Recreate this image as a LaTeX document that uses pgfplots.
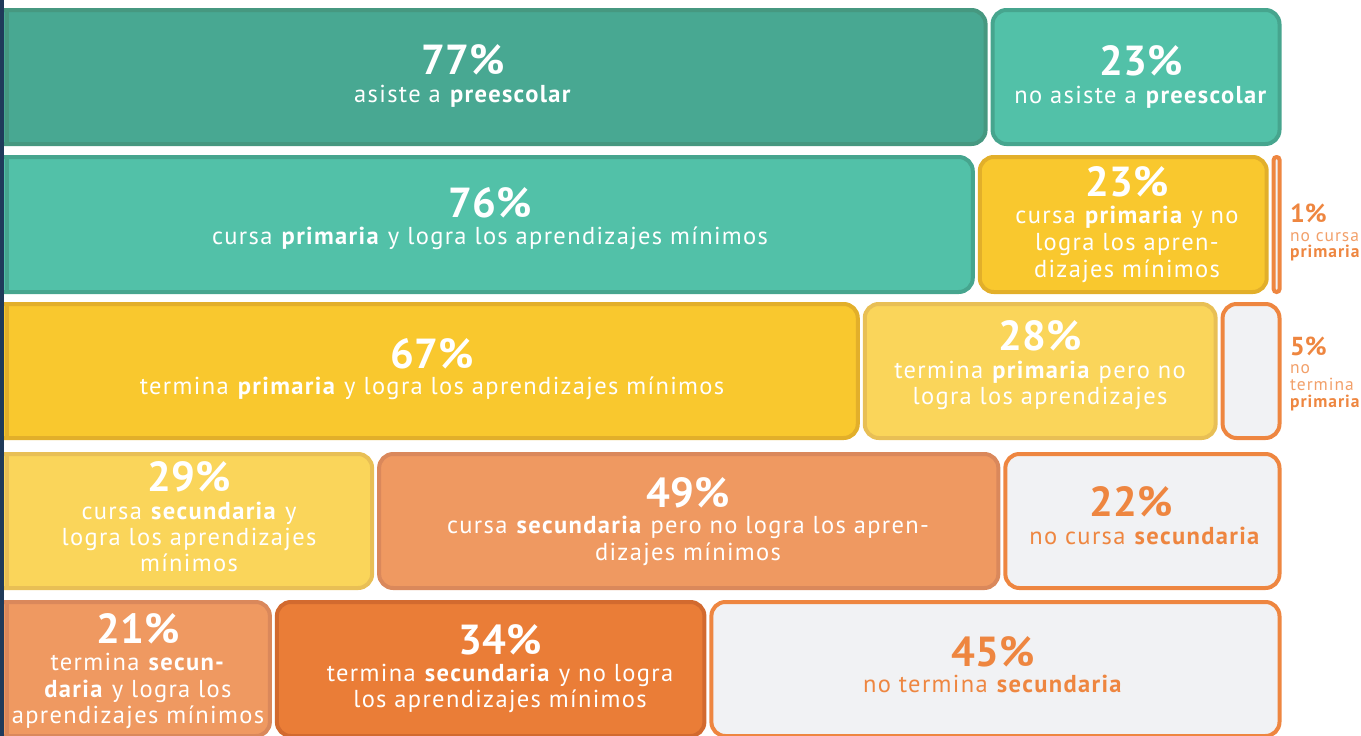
\documentclass[border=0pt]{standalone}
\usepackage{pgfplots}
\pgfplotsset{compat=1.18}
\usepackage{fontspec}
\setmainfont{PT Sans}
\newfontfamily\bodyfam{PT Sans}[LetterSpace=5.5]
\definecolor{tealD}{HTML}{48A892}
\definecolor{tealDb}{HTML}{469880}
\definecolor{tealL}{HTML}{52C1A8}
\definecolor{tealLb}{HTML}{46A58E}
\definecolor{yel}{HTML}{F9C82E}
\definecolor{yelb}{HTML}{E2AF2A}
\definecolor{yelL}{HTML}{FAD55A}
\definecolor{yelLb}{HTML}{E8BF55}
\definecolor{orL}{HTML}{EF9961}
\definecolor{orLb}{HTML}{DA885B}
\definecolor{orD}{HTML}{EA7D37}
\definecolor{orDb}{HTML}{D26A2F}
\definecolor{gry}{HTML}{F1F2F4}
\definecolor{orB}{HTML}{EE8640}
\definecolor{orT}{HTML}{F2A06A}
\definecolor{navy}{HTML}{1F3A5A}
\newcommand\bigf{\fontsize{42}{42}\selectfont\bfseries}
\newcommand\bodyf{\bodyfam\fontsize{24.5}{24.5}\selectfont}
\newcommand\sidef{\bodyfam\fontsize{17.5}{17.5}\selectfont}
% segment: [radius] start %, end %, top px, bottom px, fill ; border in \segborder
\newcommand\seg[6][14pt]{%
  \pgfmathsetmacro\xa{5+12.78*#2+3.5}%
  \pgfmathsetmacro\xb{5+12.78*#3-3.5}%
  \pgfmathsetmacro\xm{(\xa+\xb)/2}%
  \pgfmathsetmacro\ya{#4+2}%
  \pgfmathsetmacro\yb{#5-2}%
  \edef\doseg{\noexpand\addplot[fill=#6, draw=\segborder, line width=4pt, rounded corners=#1]
    coordinates {(\xm,\yb) (\xb,\yb) (\xb,\ya) (\xa,\ya) (\xa,\yb) (\xm,\yb)};}%
  \doseg}
% square left edge of the first segment of a row
\newcommand\lb[3]{\addplot[draw=#3, line width=4pt] coordinates {(7,#1) (7,#2)};}
\newcommand\BN[4]{\node[anchor=base, text=#4, font=\bigf, inner sep=0pt] at (axis cs:#1,#2) {#3};}
\newcommand\TL[4]{\node[anchor=base, text=#4, font=\bodyf, inner sep=0pt] at (axis cs:#1,#2) {#3};}
\begin{document}
\begin{tikzpicture}
\begin{axis}[scale only axis, width=1361pt, height=736pt,
  xmin=0, xmax=1361, ymin=0, ymax=736, y dir=reverse,
  axis line style={draw=none}, xtick=\empty, ytick=\empty, clip=true]
% row 1
\def\segborder{tealDb}\seg{-3}{77}{8}{146}{tealD}
\lb{8}{146}{tealDb}
\def\segborder{tealLb}\seg{77}{100}{8}{146}{tealL}
% row 2
\def\segborder{tealLb}\seg{-3}{76}{155}{294}{tealL}
\lb{155}{294}{tealLb}
\def\segborder{yelb}\seg{76}{99}{155}{294}{yel}
\def\segborder{orB}\seg[2.8pt]{99}{100}{155}{294}{gry}
% row 3
\def\segborder{yelb}\seg{-3}{67}{302}{440}{yel}
\lb{302}{440}{yelb}
\def\segborder{yelLb}\seg{67}{95}{302}{440}{yelL}
\def\segborder{orB}\seg{95}{100}{302}{440}{gry}
% row 4
\def\segborder{yelLb}\seg{-3}{29}{452}{590}{yelL}
\lb{452}{590}{yelLb}
\def\segborder{orLb}\seg{29}{78}{452}{590}{orL}
\def\segborder{orB}\seg{78}{100}{452}{590}{gry}
% row 5
\def\segborder{orLb}\seg{-3}{21}{600}{738}{orL}
\lb{600}{738}{orLb}
\def\segborder{orDb}\seg{21}{55}{600}{738}{orD}
\def\segborder{orB}\seg{55}{100}{600}{738}{gry}
% navy rule
\addplot[draw=navy, line width=4pt] coordinates {(2,0) (2,736)};
% texts
\BN{463}{74}{77\%}{white}
\TL{463}{102.5}{asiste a \textbf{preescolar}}{white}
\BN{1141}{75}{23\%}{white}
\TL{1141}{103}{no asiste a \textbf{preescolar}}{white}
\BN{490}{217}{76\%}{white}
\TL{490}{244}{cursa \textbf{primaria} y logra los aprendizajes mínimos}{white}
\BN{1127}{196}{23\%}{white}
\TL{1127}{223}{cursa \textbf{primaria} y no}{white}
\TL{1127}{250}{logra los apren-}{white}
\TL{1127}{277}{dizajes mínimos}{white}
\BN{432}{368}{67\%}{white}
\TL{432}{394}{termina \textbf{primaria} y logra los aprendizajes mínimos}{white}
\BN{1040}{350}{28\%}{white}
\TL{1040}{378}{termina \textbf{primaria} pero no}{white}
\TL{1040}{404}{logra los aprendizajes}{white}
\BN{189}{491}{29\%}{white}
\TL{189}{519}{cursa \textbf{secundaria} y}{white}
\TL{189}{545}{logra los aprendizajes}{white}
\TL{189}{571}{mínimos}{white}
\BN{688}{507}{49\%}{white}
\TL{688}{533}{cursa \textbf{secundaria} pero no logra los apren-}{white}
\TL{688}{560}{dizajes mínimos}{white}
\BN{1131}{516}{22\%}{orB}
\TL{1145}{544}{no cursa \textbf{secundaria}}{orB}
\BN{138}{643}{21\%}{white}
\TL{138}{670}{termina \textbf{secun-}}{white}
\TL{138}{697}{\textbf{daria} y logra los}{white}
\TL{138}{723}{aprendizajes mínimos}{white}
\BN{500}{654}{34\%}{white}
\TL{500}{681}{termina \textbf{secundaria} y no logra}{white}
\TL{500}{707}{los aprendizajes mínimos}{white}
\BN{993}{666}{45\%}{orB}
\TL{993}{692}{no termina \textbf{secundaria}}{orB}
% side labels
\node[anchor=base west, inner sep=0pt, text=orB, font=\fontsize{26}{26}\selectfont\bfseries] at (axis cs:1290,222) {1\%};
\node[anchor=base west, inner sep=0pt, text=orT, font=\sidef] at (axis cs:1290,241) {no cursa};
\node[anchor=base west, inner sep=0pt, text=orB, font=\sidef\bfseries] at (axis cs:1290,257) {primaria};
\node[anchor=base west, inner sep=0pt, text=orB, font=\fontsize{26}{26}\selectfont\bfseries] at (axis cs:1290,355) {5\%};
\node[anchor=base west, inner sep=0pt, text=orT, font=\sidef] at (axis cs:1290,373) {no};
\node[anchor=base west, inner sep=0pt, text=orT, font=\sidef] at (axis cs:1290,390) {termina};
\node[anchor=base west, inner sep=0pt, text=orB, font=\sidef\bfseries] at (axis cs:1290,407) {primaria};
\end{axis}
\end{tikzpicture}
\end{document}
